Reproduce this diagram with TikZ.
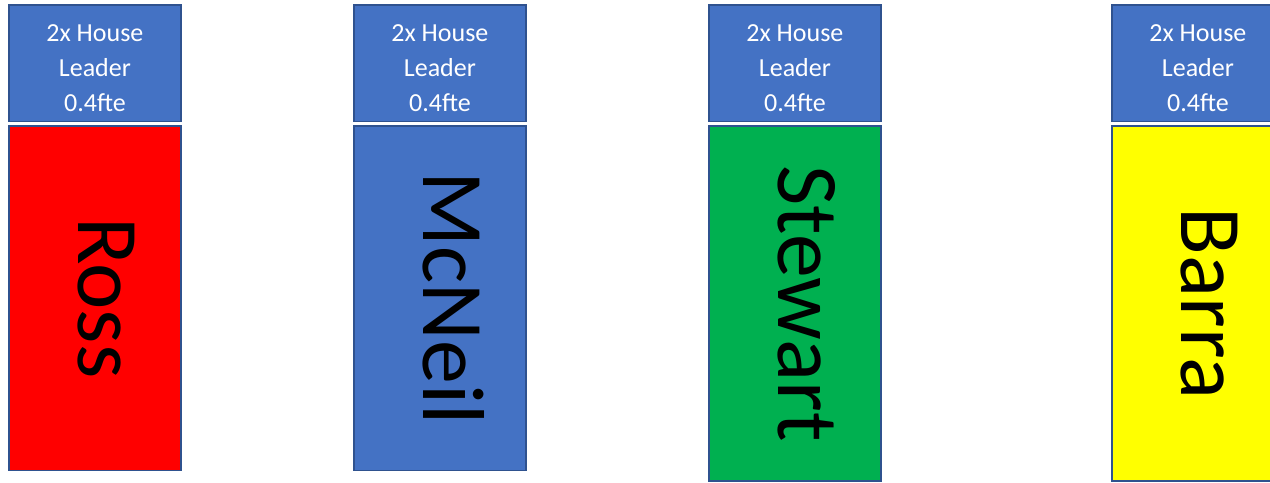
\documentclass[tikz,border=0pt]{standalone}
\usepackage{fontspec}
\setmainfont{Carlito}
\definecolor{headblue}{HTML}{4472C4}
\definecolor{edgeblue}{HTML}{2F528F}
\definecolor{rossred}{HTML}{FF0000}
\definecolor{stewartgreen}{HTML}{00B050}
\definecolor{barrayellow}{HTML}{FFFF00}
\begin{document}
\begin{tikzpicture}[
    headbox/.style={anchor=north west,draw=edgeblue,line width=1pt,fill=headblue,minimum width=3.44cm,minimum height=2.33cm,inner sep=0pt},
    headtext/.style={text=white,align=center,font=\fontsize{14.8}{19.9}\selectfont,yshift=-0.1cm},
    housebox/.style={anchor=north west,draw=edgeblue,line width=1pt,minimum width=3.44cm,inner sep=0pt},
    housename/.style={rotate=-90,font=\fontsize{50}{60}\selectfont,text height=1.2cm,text depth=0.56cm,inner sep=0pt}
  ]
                \useasboundingbox (0,0) rectangle (25.4,-9.64);
                %% House leader boxes
                \node[headbox] (RossHead) at (0.16,-0.08) {};
                \node[headbox] (McNeilHead) at (7.06,-0.08) {};
                \node[headbox] (StewartHead) at (14.16,-0.08) {};
                \node[headbox] (BarraHead) at (22.22,-0.08) {};
                \node[headtext] (RossRole) at (RossHead.center) {2x House\\Leader\\0.4fte};
                \node[headtext] (McNeilRole) at (McNeilHead.center) {2x House\\Leader\\0.4fte};
                \node[headtext] (StewartRole) at (StewartHead.center) {2x House\\Leader\\0.4fte};
                \node[headtext] (BarraRole) at (BarraHead.center) {2x House\\Leader\\0.4fte};
                %% Houses
                \node[housebox,fill=rossred,minimum height=6.89cm] (Ross) at (0.16,-2.5) {};
                \node[housebox,fill=headblue,minimum height=6.89cm] (McNeil) at (7.06,-2.5) {};
                \node[housebox,fill=stewartgreen,minimum height=7.1cm] (Stewart) at (14.16,-2.5) {};
                \node[housebox,fill=barrayellow,minimum height=7.1cm] (Barra) at (22.22,-2.5) {};
                %% names
                \node[housename] (RossName) at (Ross.center) {Ross};
                \node[housename] (McNeilName) at (McNeil.center) {McNeil};
                \node[housename] (StewartName) at (Stewart.center) {Stewart};
                \node[housename] (BarraName) at (Barra.center) {Barra};
            \end{tikzpicture}
\end{document}
